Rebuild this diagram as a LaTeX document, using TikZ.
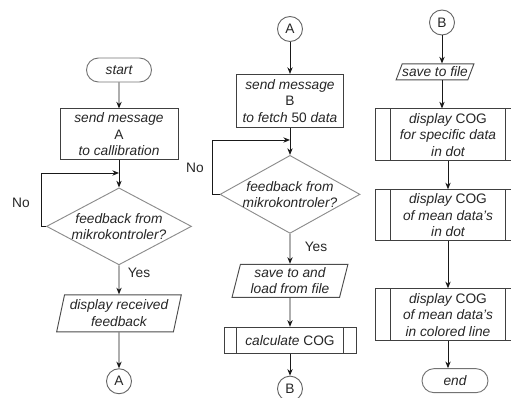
\documentclass[tikz,border=0pt]{standalone}
\usepackage{fontspec}
\setmainfont{Liberation Sans}
\usetikzlibrary{arrows.meta, positioning, shapes.geometric, shapes.misc}
\newdimen\px
\px=0.75pt

\begin{document}
\begin{tikzpicture}[x=0.75pt, y=-0.75pt, >={Stealth[length=5pt, width=4pt]},
	every node/.style={font=\fontsize{10.3}{12.4}\selectfont\itshape, text=black!85, inner sep=0pt, align=center},
	term/.style={rounded rectangle, draw=black!55, line width=0.7pt, minimum height=24\px},
	box/.style={rectangle, draw=black!75, line width=0.7pt},
	dec/.style={diamond, aspect=1.85, inner sep=-1pt, draw=black!45, line width=0.7pt},
	io/.style={trapezium, trapezium stretches=true, draw=black!70, line width=0.7pt},
	conn/.style={circle, draw=black!60, line width=0.7pt, minimum size=25\px, font=\fontsize{10.3}{12.4}\selectfont\upshape},
	lbl/.style={font=\fontsize{10.3}{12.4}\selectfont\upshape},
	flow/.style={->, draw=black!90, line width=0.7pt}]
	\useasboundingbox (0,0) rectangle (511,398);
	\clip (0,0) rectangle (511,398);

	% Column 1
	\node[term, minimum width=65\px] (start) at (119,70) {start};
	\node[box, minimum width=118\px, minimum height=51\px, below=26\px of start] (msgA) {send message\\{\upshape A}\\to callibration};
	\node[dec, minimum width=145\px, minimum height=77\px, below=27\px of msgA] (fbA) {feedback from\\mikrokontroler?};
	\node[io, trapezium left angle=75, trapezium right angle=105, minimum width=125\px, minimum height=37\px, below=29\px of fbA] (showfb) {display received\\feedback};
	\node[conn, below=36\px of showfb] (outA) {A};
	\node[lbl] (noA) at (21,203) {No};
	\node[lbl] (yesA) at (139,273) {Yes};
	\coordinate (loopA) at (41,173);
	\coordinate (joinA) at (msgA.south |- loopA);

	% Column 2
	\node[conn] (inA) at (290,29) {A};
	\node[box, minimum width=107\px, minimum height=53\px, below=32\px of inA] (msgB) {send message\\{\upshape B}\\to fetch {\upshape 50} data};
	\node[dec, minimum width=140\px, minimum height=78\px, below=27\px of msgB] (fbB) {feedback from\\mikrokontroler?};
	\node[io, trapezium left angle=76, trapezium right angle=104, minimum width=116\px, minimum height=33\px, below=30\px of fbB] (load) {save to and\\load from file};
	\node[box, minimum width=132\px, minimum height=26\px, below=29\px of load] (calc) {calculate {\upshape COG}};
	\node[conn, below=22\px of calc] (outB) {B};
	\node[lbl] (noB) at (195,168) {No};
	\node[lbl] (yesB) at (316,247) {Yes};
	\coordinate (loopB) at (212,140);
	\coordinate (joinB) at (msgB.south |- loopB);

	% Column 3
	\node[conn] (inB) at (442,22.5) {B};
	\node[io, trapezium left angle=59, trapezium right angle=121, minimum width=68\px, minimum height=16\px, below=28\px of inB, xshift=-7\px] (save) {save to file};
	\node[box, minimum width=146\px, minimum height=52\px, below=28\px of save, xshift=13\px] (dotA) {display {\upshape COG}\\for specific data\\in dot};
	\node[box, minimum width=146\px, minimum height=51\px, below=28\px of dotA] (dotB) {display {\upshape COG}\\of mean data's\\in dot};
	\node[box, minimum width=146\px, minimum height=52\px, below=47\px of dotB] (line) {display {\upshape COG}\\of mean data's\\in colored line};
	\node[term, minimum width=66\px, below=27\px of line, xshift=7\px] (stop) {end};

	% Predefined process bars
	\foreach \n/\d in {calc/13, dotA/16, dotB/16, line/16}
		\draw[draw=black!75, line width=0.7pt] ([xshift=\d\px]\n.north west) -- ([xshift=\d\px]\n.south west)
			([xshift=-\d\px]\n.north east) -- ([xshift=-\d\px]\n.south east);

	% Connectors
	\draw[flow] (start) -- (msgA);
	\draw[flow] (msgA) -- (fbA);
	\draw[flow] (fbA) -- (showfb);
	\draw[flow] (showfb) -- (outA);
	\draw[flow] (fbA.west) -| (loopA) -- (joinA);

	\draw[flow] (inA) -- (msgB);
	\draw[flow] (msgB) -- (fbB);
	\draw[flow] (fbB) -- (load);
	\draw[flow] (load) -- (calc);
	\draw[flow] (calc) -- (outB);
	\draw[flow] (fbB.west) -| (loopB) -- (joinB);

	\draw[flow] (inB) -- (inB |- save.north);
	\draw[flow] (inB |- save.south) -- (inB |- dotA.north);
	\draw[flow] (dotA) -- (dotB);
	\draw[flow] (dotB) -- (line);
	\draw[flow] (line.south) -- (line.south |- stop.north);
\end{tikzpicture}
\end{document}
